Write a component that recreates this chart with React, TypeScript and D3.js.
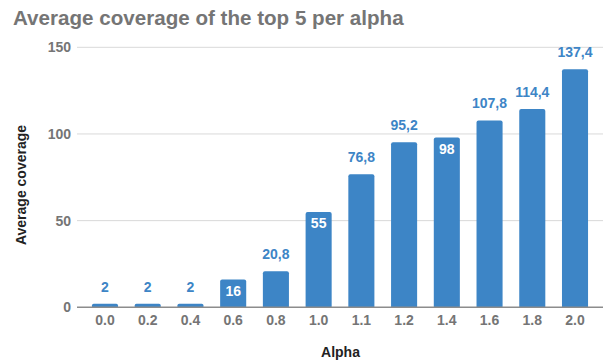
import React from "react";
import * as d3 from "d3";

// Average coverage of the top 5 results for each alpha value
const alphas = ["0.0", "0.2", "0.4", "0.6", "0.8", "1.0", "1.1", "1.2", "1.4", "1.6", "1.8", "2.0"];
const coverage = [2, 2, 2, 16, 20.8, 55, 76.8, 95.2, 98, 107.8, 114.4, 137.4];
// Categories whose value label sits inside the bar
const insideLabelAlphas = ["0.6", "1.0", "1.4"];
const yTicks = [0, 50, 100, 150];

const W = 610;
const H = 362;
const left = 77;
const right = 603;
const top = 47.3;
const bottom = 307.3;

const BLUE = "#3d85c6";
const GREY = "#757575";
const FONT = "'Liberation Sans', Arial, sans-serif";

const fmt = (v: number) => String(v).replace(".", ",");

export default function App() {
  const x = d3
    .scaleBand<string>()
    .domain(alphas)
    .range([left, right])
    .paddingInner(0.39)
    .paddingOuter(0.35);
  const y = d3.scaleLinear().domain([0, 150]).range([bottom, top]);
  const bw = x.bandwidth();
  const r = 2;

  const barPath = (x0: number, y0: number, w: number, h: number) => {
    const rr = Math.min(r, h / 2, w / 2);
    return `M${x0},${y0 + h}V${y0 + rr}Q${x0},${y0} ${x0 + rr},${y0}H${x0 + w - rr}Q${x0 + w},${y0} ${x0 + w},${y0 + rr}V${y0 + h}Z`;
  };

  return (
    <svg
      width={W}
      height={H}
      style={{ position: "absolute", left: 0, top: 0, background: "#fff" }}
      fontFamily={FONT}
    >
      <text x={13} y={25} fontSize={20.6} fontWeight="bold" fill={GREY}>
        Average coverage of the top 5 per alpha
      </text>

      {yTicks.map((t) => (
        <g key={t}>
          {t !== 0 && (
            <line x1={left} x2={right} y1={y(t)} y2={y(t)} stroke="#d9d9d9" strokeWidth={1} />
          )}
          <text
            x={71}
            y={y(t)}
            dy="0.35em"
            textAnchor="end"
            fontSize={14}
            fontWeight="bold"
            fill={GREY}
          >
            {t}
          </text>
        </g>
      ))}

      {alphas.map((a, i) => {
        const v = coverage[i];
        const x0 = x(a)!;
        const yTop = y(v);
        const inside = insideLabelAlphas.includes(a);
        return (
          <g key={a}>
            <path d={barPath(x0, yTop, bw, bottom - yTop)} fill={BLUE} />
            <text
              x={x0 + bw / 2}
              y={inside ? yTop + 16.5 : yTop - 12}
              textAnchor="middle"
              fontSize={14}
              fontWeight="bold"
              fill={inside ? "#ffffff" : BLUE}
            >
              {fmt(v)}
            </text>
            <text
              x={x0 + bw / 2}
              y={325}
              textAnchor="middle"
              fontSize={14}
              fontWeight="bold"
              fill={GREY}
            >
              {a}
            </text>
          </g>
        );
      })}

      <line x1={left} x2={right} y1={bottom} y2={bottom} stroke="#8c8c8c" strokeWidth={1.5} />

      <text x={340.5} y={356.5} textAnchor="middle" fontSize={14} fontWeight="bold" fill="#222">
        Alpha
      </text>
      <text
        transform={`translate(26,185) rotate(-90)`}
        textAnchor="middle"
        fontSize={14}
        fontWeight="bold"
        fill="#222"
      >
        Average coverage
      </text>
    </svg>
  );
}
